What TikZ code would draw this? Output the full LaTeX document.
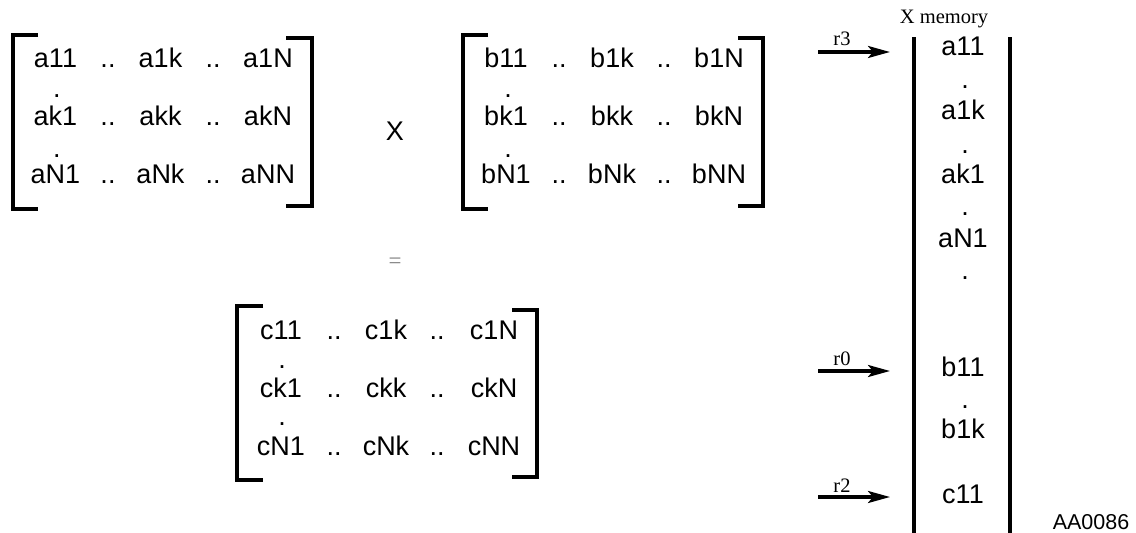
\documentclass[tikz,border=0pt]{standalone}
\usepackage{fontspec}
\setmainfont{Liberation Sans}
\newfontfamily\seriffam{Liberation Serif}
\usetikzlibrary{arrows.meta}
\begin{document}
\begin{tikzpicture}[x=1pt,y=-1pt,
  ent/.style={inner sep=0pt,anchor=base,font=\fontsize{27}{27}\selectfont},
  lab/.style={inner sep=0pt,anchor=base,font=\seriffam\fontsize{20.5}{20.5}\selectfont},
  brk/.style={line width=3.2pt},
  ptr/.style={line width=3.2pt,-{Stealth[length=22pt,width=12pt,inset=5pt]}}]
\useasboundingbox (0,0) rectangle (1136,533);
% Matrix A
\draw[brk] (38,35) -- (13,35) -- (13,209) -- (38,209);
\draw[brk] (286,38) -- (312,38) -- (312,206) -- (286,206);
\node[ent] (a11) at (55.5,67) {a11};
\node[ent] (ad1) at (108,67) {..};
\node[ent] (a1k) at (160.5,67) {a1k};
\node[ent] (ad2) at (213,67) {..};
\node[ent] (a1N) at (268,67) {a1N};
\node[ent] (av1) at (57,97) {.};
\node[ent] (ak1) at (55.5,125) {ak1};
\node[ent] (ad3) at (108,125) {..};
\node[ent] (akk) at (160.5,125) {akk};
\node[ent] (ad4) at (213,125) {..};
\node[ent] (akN) at (268,125) {akN};
\node[ent] (av2) at (57,157) {.};
\node[ent] (aN1) at (55.5,183) {aN1};
\node[ent] (ad5) at (108,183) {..};
\node[ent] (aNk) at (160.5,183) {aNk};
\node[ent] (ad6) at (213,183) {..};
\node[ent] (aNN) at (268,183) {aNN};
% times
\node[ent] (times) at (395,140) {X};
% Matrix B
\draw[brk] (488,35) -- (463,35) -- (463,209) -- (488,209);
\draw[brk] (738,38) -- (763,38) -- (763,206) -- (738,206);
\node[ent] (b11) at (506,67) {b11};
\node[ent] (bd1) at (559,67) {..};
\node[ent] (b1k) at (612,67) {b1k};
\node[ent] (bd2) at (664,67) {..};
\node[ent] (b1N) at (719,67) {b1N};
\node[ent] (bv1) at (508,97) {.};
\node[ent] (bk1) at (506,125) {bk1};
\node[ent] (bd3) at (559,125) {..};
\node[ent] (bkk) at (612,125) {bkk};
\node[ent] (bd4) at (664,125) {..};
\node[ent] (bkN) at (719,125) {bkN};
\node[ent] (bv2) at (508,157) {.};
\node[ent] (bN1) at (506,183) {bN1};
\node[ent] (bd5) at (559,183) {..};
\node[ent] (bNk) at (612,183) {bNk};
\node[ent] (bd6) at (664,183) {..};
\node[ent] (bNN) at (719,183) {bNN};
% equals
\node[inner sep=0pt,text=gray,font=\seriffam\fontsize{23}{23}\selectfont] (eq) at (395,263) {=};
% Matrix C
\draw[brk] (263,306) -- (237,306) -- (237,480) -- (263,480);
\draw[brk] (512,310) -- (537,310) -- (537,477) -- (512,477);
\node[ent] (c11) at (281,339) {c11};
\node[ent] (cd1) at (334,339) {..};
\node[ent] (c1k) at (386,339) {c1k};
\node[ent] (cd2) at (437,339) {..};
\node[ent] (c1N) at (494,339) {c1N};
\node[ent] (cv1) at (282,368) {.};
\node[ent] (ck1) at (281,397) {ck1};
\node[ent] (cd3) at (334,397) {..};
\node[ent] (ckk) at (386,397) {ckk};
\node[ent] (cd4) at (437,397) {..};
\node[ent] (ckN) at (494,397) {ckN};
\node[ent] (cv2) at (282,425) {.};
\node[ent] (cN1) at (281,455) {cN1};
\node[ent] (cd5) at (334,455) {..};
\node[ent] (cNk) at (386,455) {cNk};
\node[ent] (cd6) at (437,455) {..};
\node[ent] (cNN) at (494,455) {cNN};
% X memory
\node[lab] (xmem) at (944,23) {X memory};
\draw[brk] (914,37) -- (914,533);
\draw[brk] (1010,37) -- (1010,533);
\node[ent] (m1) at (963,55) {a11};
\node[ent] (m2) at (965,88) {.};
\node[ent] (m3) at (963,119) {a1k};
\node[ent] (m4) at (965,153) {.};
\node[ent] (m5) at (963,183) {ak1};
\node[ent] (m6) at (965,215) {.};
\node[ent] (m7) at (963,247) {aN1};
\node[ent] (m8) at (965,279) {.};
\node[ent] (m9) at (963,376) {b11};
\node[ent] (m10) at (965,408) {.};
\node[ent] (m11) at (963,438) {b1k};
\node[ent] (m12) at (963,503) {c11};
% pointers
\coordinate (r3s) at (818,52);
\coordinate (r3e) at (890,52);
\coordinate (r0s) at (818,371);
\coordinate (r0e) at (890,371);
\coordinate (r2s) at (818,497);
\coordinate (r2e) at (890,497);
\draw[ptr] (r3s) -- (r3e);
\draw[ptr] (r0s) -- (r0e);
\draw[ptr] (r2s) -- (r2e);
\node[lab] (r3) at (842,45) {r3};
\node[lab] (r0) at (842,365) {r0};
\node[lab] (r2) at (842,492) {r2};
\node[ent,font=\fontsize{21.5}{21.5}\selectfont] (id) at (1091,529) {AA0086};
\end{tikzpicture}
\end{document}
